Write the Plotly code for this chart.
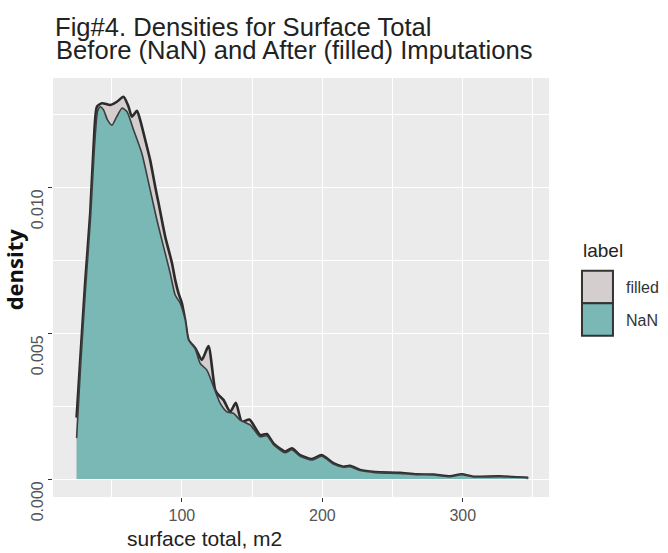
import plotly.graph_objects as go

# density curves (x = surface total, m2)
filled_x = [25, 28, 31.2, 34.7, 37.1, 39.5, 43.1, 49, 53.7, 58.4, 62, 64.4, 68, 70.3,
            73.9, 77.4, 81, 83.4, 88.1, 92.9, 95.2, 97.6, 100, 102.3, 104.7, 109.5,
            114.2, 118.9, 123.7, 126, 129.6, 134.4, 138.4, 142.7, 148.1, 155.7, 160.5,
            165.2, 173.5, 178.3, 184.2, 192.5, 199.6, 207.9, 215, 219.8, 226.9, 237.6,
            255, 267, 279, 291, 299.3, 307.5, 326, 346.6]
filled_y = [0.0021, 0.0044, 0.0068, 0.0091, 0.0114, 0.01275, 0.01287, 0.01281, 0.01292,
            0.01309, 0.01275, 0.01241, 0.01261, 0.01229, 0.01161, 0.01092, 0.01001,
            0.00944, 0.0083, 0.0074, 0.00682, 0.00636, 0.00602, 0.00545, 0.00476,
            0.00448, 0.00408, 0.00455, 0.00305, 0.00288, 0.00271, 0.0023, 0.00261,
            0.00196, 0.00204, 0.00151, 0.00154, 0.00122, 0.00094, 0.00105, 0.00082,
            0.00068, 0.00082, 0.00054, 0.00042, 0.00045, 0.00031, 0.00024, 0.00021,
            0.00016, 0.00015, 0.00009, 0.00016, 0.00008, 0.00009, 0.00004]

nan_x = [25, 28, 31.5, 35, 37.5, 40, 41.9, 44.2, 47, 50.2, 53.5, 57.3, 60.9, 65.6, 71.5,
         77.4, 82.2, 86.9, 91.7, 95.2, 98.8, 102.3, 104.7, 109.5, 113, 117.8, 122.5,
         127.3, 132, 136.7, 141.5, 148.6, 155.7, 160.5, 165.2, 173.5, 178.3, 184.2,
         192.5, 199.6, 207.9, 215, 219.8, 226.9, 237.6, 255, 267, 279, 291, 299.3,
         307.5, 326, 346.6]
nan_y = [0.0014, 0.004, 0.0066, 0.009, 0.0112, 0.0126, 0.01275, 0.01264, 0.0123, 0.01212,
         0.0124, 0.0127, 0.01258, 0.01195, 0.01115, 0.0099, 0.00887, 0.00796, 0.00704,
         0.0063, 0.00602, 0.00545, 0.00476, 0.00445, 0.00396, 0.00373, 0.00316, 0.00259,
         0.0023, 0.00225, 0.00202, 0.00185, 0.00145, 0.00148, 0.00118, 0.0009, 0.001,
         0.00078, 0.00065, 0.00078, 0.00051, 0.0004, 0.00042, 0.00029, 0.00022, 0.00019,
         0.00015, 0.00014, 0.00008, 0.00015, 0.00007, 0.00008, 0.00004]

labels = ["filled", "NaN"]
colors = ["#D5CECE", "#79B8B5"]

x_ticks = [100, 200, 300]
y_ticks = [0.000, 0.005, 0.010]
y_tick_text = ["0.000", "0.005", "0.010"]

# panel box in pixels (figure 668 x 553)
L, R, T, B = 52.7, 549.0, 78.0, 497.0


def px_x(p):
    return (p - L) / (R - L)


def px_y(p):
    return (B - p) / (B - T)


fig = go.Figure()

fig.add_trace(go.Scatter(
    x=filled_x, y=filled_y, mode="lines", fill="tozeroy", fillcolor=colors[0],
    line=dict(color="#2b2b2b", width=2.6, shape="spline", smoothing=0.6),
    showlegend=False, name=labels[0]))
fig.add_trace(go.Scatter(
    x=nan_x, y=nan_y, mode="lines", fill="tozeroy", fillcolor=colors[1],
    line=dict(color="#3d3d3d", width=1.6, shape="spline", smoothing=0.6),
    showlegend=False, name=labels[1]))

fig.update_xaxes(
    range=[8.2, 361.4], tickvals=x_ticks, ticks="outside", ticklen=4, tickwidth=1.2,
    tickcolor="#333333", showgrid=True, gridcolor="white", gridwidth=1.3,
    zeroline=False, showline=False,
    tickfont=dict(family="Liberation Sans", size=16, color="#555555"),
    minor=dict(dtick=50, tick0=0, showgrid=True, gridcolor="white", gridwidth=0.6))
fig.update_yaxes(
    range=[-0.000616, 0.013733], tickvals=y_ticks, ticks="outside", ticklen=4,
    tickwidth=1.2, tickcolor="#333333", showticklabels=False, showgrid=True,
    gridcolor="white", gridwidth=1.3, zeroline=False, showline=False,
    minor=dict(dtick=0.0025, tick0=0, showgrid=True, gridcolor="white", gridwidth=0.6))

ann = []
# y tick labels, rotated, ending at the tick as in ggplot
for v, t in zip(y_ticks, y_tick_text):
    ann.append(dict(x=px_x(37), xref="paper", y=v, yref="y", text=t, showarrow=False,
                    textangle=-90, xanchor="center", yanchor="top",
                    font=dict(family="Liberation Sans", size=16, color="#555555")))

# titles
ann.append(dict(x=px_x(52.5), y=px_y(26.8), xref="paper", yref="paper",
                text="Fig#4. Densities for Surface Total", showarrow=False,
                xanchor="left", yanchor="middle",
                font=dict(family="Liberation Sans", size=25.6, color="#222222")))
ann.append(dict(x=px_x(54), y=px_y(50.3), xref="paper", yref="paper",
                text="Before (NaN) and After (filled) Imputations", showarrow=False,
                xanchor="left", yanchor="middle",
                font=dict(family="Liberation Sans", size=25.6, color="#222222")))
ann.append(dict(x=px_x(204.5), y=px_y(538), xref="paper", yref="paper",
                text="surface total, m2", showarrow=False, xanchor="center",
                yanchor="middle",
                font=dict(family="Liberation Sans", size=21, color="#222222")))
ann.append(dict(x=px_x(14), y=px_y(269), xref="paper", yref="paper",
                text="<b>density</b>", showarrow=False, textangle=-90,
                xanchor="center", yanchor="middle",
                font=dict(family="Open Sans", size=22, color="#111111")))

# legend drawn by hand (ggplot style boxes)
ann.append(dict(x=px_x(581), y=px_y(250), xref="paper", yref="paper", text="label",
                showarrow=False, xanchor="left", yanchor="middle",
                font=dict(family="Liberation Sans", size=19, color="#222222")))
shapes = []
key_top = [270.7, 303.2]
key_h = 32.5
for i, lab in enumerate(labels):
    shapes.append(dict(type="rect", xref="paper", yref="paper",
                       x0=px_x(582), x1=px_x(613),
                       y0=px_y(key_top[i] + key_h), y1=px_y(key_top[i]),
                       fillcolor=colors[i], line=dict(color="#333333", width=2)))
    ann.append(dict(x=px_x(624), y=px_y(key_top[i] + key_h / 2 + 1), xref="paper",
                    yref="paper", text=lab, showarrow=False, xanchor="left",
                    yanchor="middle",
                    font=dict(family="Liberation Sans", size=16, color="#333333")))

fig.update_layout(
    width=668, height=553,
    margin=dict(l=L, r=668 - R, t=T, b=553 - B, pad=0),
    paper_bgcolor="white", plot_bgcolor="#EBEBEB",
    annotations=ann, shapes=shapes, showlegend=False)

# the page body has a default 8px margin; drop it so the figure sits at (0, 0)
fig.write_html("out.html", config={"displayModeBar": False},
               post_script="document.body.style.margin='0px';")
